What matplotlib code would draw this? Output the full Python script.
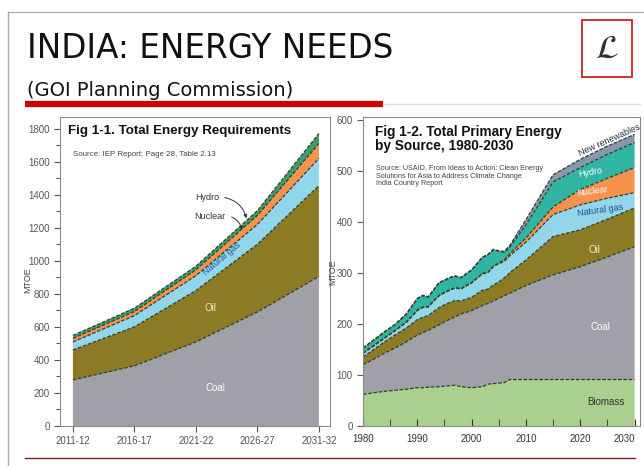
import numpy as np
import matplotlib
matplotlib.use('Agg')
import matplotlib.pyplot as plt
from matplotlib.patches import Rectangle, FancyArrowPatch
from matplotlib.lines import Line2D

narrow = ['Liberation Sans Narrow', 'Liberation Sans', 'DejaVu Sans']

# Fig 1-1: total energy requirements (MTOE), per source
periods = ['2011-12', '2016-17', '2021-22', '2026-27', '2031-32']
req_coal = [279, 364, 509, 690, 905]
req_oil = [181, 236, 311, 410, 550]
req_gas = [49, 68, 90, 120, 165]
req_nuclear = [21, 25, 35, 55, 90]
req_hydro = [18, 20, 22, 28, 60]

# Fig 1-2: total primary energy by source (MTOE)
years = [1980, 1982, 1984, 1986, 1988, 1990, 1991, 1992, 1994, 1996, 1997, 1998,
         2000, 2002, 2003, 2004, 2005, 2006, 2007, 2010, 2015, 2020, 2025, 2030]
biomass = [62, 65, 68, 70, 72, 75, 75, 76, 77, 79, 80, 77,
           75, 77, 82, 83, 84, 85, 91, 91, 91, 91, 91, 91]
coal = [58, 66, 75, 83, 93, 103, 108, 111, 121, 130, 134, 142,
        151, 159, 158, 162, 166, 170, 169, 184, 205, 221, 240, 260]
oil = [15, 19, 22, 26, 27, 30, 30, 29, 34, 33, 32, 26,
       26, 30, 28, 31, 32, 35, 40, 50, 75, 72, 74, 76]
gas = [7, 7, 7, 8, 11, 18, 19, 17, 23, 24, 24, 23,
       28, 32, 32, 36, 36, 32, 33, 35, 43, 49, 41, 30]
nuclear = [1, 1, 1, 1, 1, 1, 1, 1, 1, 1, 1, 1,
           1, 1, 1, 1, 1, 3, 4, 8, 15, 30, 39, 49]
hydro = [9, 10, 11, 11, 15, 22, 22, 18, 24, 23, 22, 21,
         24, 31, 34, 32, 23, 15, 13, 26, 49, 43, 47, 49]
new_renew = [1, 1, 1, 1, 1, 1, 1, 1, 1, 1, 1, 1,
             1, 1, 1, 1, 1, 2, 3, 10, 14, 16, 16, 16]

c_coal = '#a0a0a8'
c_oil = '#8c7b24'
c_gas = '#92d6ec'
c_nuc = '#f5934e'
c_hydro_l = '#3c9e6c'
c_hydro_r = '#2fb5a2'
c_renew = '#8598ad'
c_bio = '#a9d08e'
c_edge = '#33402c'

W, H = 644, 466
fig = plt.figure(figsize=(W / 100, H / 100), dpi=100)


def fx(px):
    return px / W


def fy(py):
    return 1 - py / H


# slide decoration
fig.add_artist(Line2D([fx(8), fx(8)], [0, fy(12)], color='#b0b0b0', lw=1))
fig.add_artist(Line2D([fx(8), 1], [fy(12), fy(12)], color='#b0b0b0', lw=1))
fig.text(fx(27), fy(48), 'INDIA: ENERGY NEEDS', fontsize=23.5, va='center', color='#111')
fig.text(fx(27), fy(91), '(GOI Planning Commission)', fontsize=14, va='center', color='#111')
fig.add_artist(Line2D([fx(25), fx(383)], [fy(104), fy(104)], color='#cc0000', lw=4.5,
                      solid_capstyle='butt'))
fig.add_artist(Line2D([fx(383), fx(640)], [fy(104), fy(104)], color='#ecdada', lw=1))
fig.add_artist(Rectangle((fx(582), fy(77)), fx(50), fy(20) - fy(77), transform=fig.transFigure,
                         fill=False, edgecolor='#cc2222', lw=1.3))
fig.text(fx(607), fy(48), r'$\mathcal{L}$', fontsize=24, ha='center', va='center', color='#333')
fig.add_artist(Line2D([fx(25), fx(635)], [fy(458), fy(458)], color='#7a2020', lw=1))

# ---- left chart
ax1 = fig.add_axes([fx(60), fy(426), fx(270), 309 / H])
xi = np.arange(len(periods))
layers1 = [req_coal, req_oil, req_gas, req_nuclear, req_hydro]
ax1.stackplot(xi, *layers1, colors=[c_coal, c_oil, c_gas, c_nuc, c_hydro_l], lw=0)
tops1 = np.cumsum(layers1, axis=0)
for t in tops1:
    ax1.plot(xi, t, color=c_edge, lw=0.9, dashes=(3, 1.2))
ax1.set_xlim(-0.21, 4.18)
ax1.set_ylim(0, 1870)
ax1.set_xticks(xi)
ax1.set_xticklabels(periods)
ax1.set_yticks(range(0, 1801, 200))
ax1.set_yticks(range(100, 1800, 200), minor=True)
ax1.tick_params(labelsize=7, colors='#555', length=4, width=0.8)
ax1.tick_params(which='minor', length=3, width=0.8, colors='#555')
for lab in ax1.get_xticklabels() + ax1.get_yticklabels():
    lab.set_family(narrow)
for s in ax1.spines.values():
    s.set_color('#8a8a8a')

# ---- right chart
ax2 = fig.add_axes([fx(363), fy(426), fx(277), 309 / H])
layers2 = [biomass, coal, oil, gas, nuclear, hydro, new_renew]
ax2.stackplot(years, *layers2,
              colors=[c_bio, c_coal, c_oil, c_gas, c_nuc, c_hydro_r, c_renew], lw=0)
tops2 = np.cumsum(layers2, axis=0)
for t in tops2:
    ax2.plot(years, t, color=c_edge, lw=0.9, dashes=(3, 1.2))
ax2.set_xlim(1980, 2031)
ax2.set_ylim(0, 605)
ax2.set_xticks(range(1980, 2031, 10))
ax2.set_xticks(range(1985, 2031, 10), minor=True)
ax2.set_yticks(range(0, 601, 100))
ax2.tick_params(axis='x', which='both', direction='in', length=5, colors='#333',
                labelsize=7, pad=6)
ax2.tick_params(axis='y', length=4, colors='#555', labelsize=7)
for lab in ax2.get_xticklabels() + ax2.get_yticklabels():
    lab.set_family(narrow)
ax2.get_xticklabels()[-1].set_ha('right')
for s in ax2.spines.values():
    s.set_color('#8a8a8a')

# y labels
fig.text(fx(28), fy(280), 'MTOE', rotation=90, fontsize=6.5, ha='center', va='center',
         color='#444', family=narrow)
fig.text(fx(333), fy(272), 'MTOE', rotation=90, fontsize=6.5, ha='center', va='center',
         color='#444', family=narrow)

# left chart titles and labels
fig.text(fx(68), fy(131), 'Fig 1-1. Total Energy Requirements', fontsize=9.6, weight='bold',
         va='center', family=narrow, color='#111')
fig.text(fx(73), fy(154), 'Source: IEP Report: Page 28, Table 2.13', fontsize=5.7,
         va='center', family=narrow, color='#444')
fig.text(fx(207), fy(197), 'Hydro', fontsize=6.5, ha='center', va='center', family=narrow, color='#333')
fig.text(fx(210), fy(216), 'Nuclear', fontsize=6.5, ha='center', va='center', family=narrow, color='#333')
for (x0, y0), (x1, y1) in [((222, 197), (247, 221)), ((229, 216), (242, 233))]:
    fig.add_artist(FancyArrowPatch((fx(x0), fy(y0)), (fx(x1), fy(y1)), transform=fig.transFigure,
                                   connectionstyle='arc3,rad=-0.35', arrowstyle='-|>',
                                   mutation_scale=5, lw=0.7, color='#333'))
fig.text(fx(222), fy(259), 'Natural gas', fontsize=6.5, rotation=40, ha='center', va='center',
         family=narrow, color='#1d5c9c')
fig.text(fx(210), fy(308), 'Oil', fontsize=7, ha='center', va='center', family=narrow, color='#f3edc8')
fig.text(fx(215), fy(388), 'Coal', fontsize=7, ha='center', va='center', family=narrow, color='white')

# right chart titles and labels
fig.text(fx(375), fy(139), 'Fig 1-2. Total Primary Energy\nby Source, 1980-2030', fontsize=9.8,
         weight='bold', va='center', family=narrow, color='#111', linespacing=1.0)
fig.text(fx(376), fy(176), 'Source: USAID, From Ideas to Action: Clean Energy\n'
         'Solutions for Asia to Address Climate Change\nIndia Country Report',
         fontsize=5.2, va='center', family=narrow, color='#444', linespacing=1.05)
fig.text(fx(609), fy(140), 'New renewables', fontsize=6.5, rotation=24, ha='center', va='center',
         family=narrow, color='#223050')
fig.text(fx(590), fy(172), 'Hydro', fontsize=6.5, rotation=10, ha='center', va='center',
         family=narrow, color='white')
fig.text(fx(592), fy(191), 'Nuclear', fontsize=6.5, rotation=8, ha='center', va='center',
         family=narrow, color='white')
fig.text(fx(600), fy(210), 'Natural gas', fontsize=6.5, rotation=8, ha='center', va='center',
         family=narrow, color='#1d4c8c')
fig.text(fx(594), fy(250), 'Oil', fontsize=7, ha='center', va='center', family=narrow, color='#f3edc8')
fig.text(fx(600), fy(327), 'Coal', fontsize=7, ha='center', va='center', family=narrow, color='white')
fig.text(fx(606), fy(402), 'Biomass', fontsize=7, ha='center', va='center', family=narrow, color='#333')

fig.savefig('out.png', dpi=100)
